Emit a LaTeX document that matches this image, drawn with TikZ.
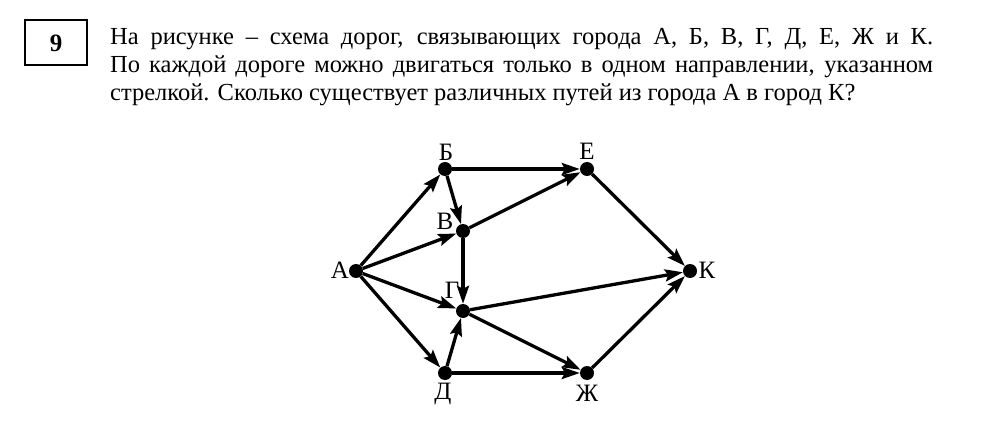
\documentclass[tikz,border=0pt]{standalone}
\usepackage{fontspec}
\setmainfont{Liberation Serif}
\usetikzlibrary{arrows.meta}
\begin{document}
\begin{tikzpicture}[x=1pt,y=-1pt,
  city/.style={circle,fill=black,inner sep=0pt,minimum size=14pt},
  lbl/.style={font=\fontsize{25}{28}\selectfont,inner sep=0pt},
  road/.style={line width=3.3pt,-{Stealth[length=18pt,width=12pt,inset=3pt]}},
  txt/.style={anchor=base west,inner sep=0pt,font=\fontsize{24.5}{28}\selectfont}]
\useasboundingbox (0,0) rectangle (1000,430);
% header
\node[draw,line width=2pt,minimum width=62pt,minimum height=45pt,inner sep=0pt,
      font=\fontsize{25}{28}\selectfont\bfseries] (num) at (56,43) {9};
\node[txt] (l1) at (110,45) {\makebox[823pt][s]{На рисунке – схема дорог, связывающих города А, Б, В, Г, Д, Е, Ж и К.}};
\node[txt] (l2) at (110,73) {\makebox[823pt][s]{По каждой дороге можно двигаться только в одном направлении, указанном}};
\node[txt] (l3) at (110,101) {стрелкой. Сколько существует различных путей из города А в город К?};
% cities
\node[city] (A) at (356,271) {};
\node[city] (B) at (445,169) {};
\node[city] (E) at (587,169) {};
\node[city] (V) at (463,231) {};
\node[city] (G) at (463,311) {};
\node[city] (D) at (445,373) {};
\node[city] (Zh) at (587,373) {};
\node[city] (K) at (690,271) {};
% labels
\node[lbl] (lA) at (340,270) {А};
\node[lbl] (lB) at (446,152) {Б};
\node[lbl] (lE) at (587,151) {Е};
\node[lbl] (lV) at (445,221) {В};
\node[lbl] (lG) at (452,290) {Г};
\node[lbl] (lD) at (443,394) {Д};
\node[lbl] (lZh) at (587,393) {Ж};
\node[lbl] (lK) at (707,270) {К};
% roads
\draw[road] (A) -- (B);
\draw[road] (A) -- (V);
\draw[road] (A) -- (G);
\draw[road] (A) -- (D);
\draw[road] (B) -- (V);
\draw[road] (B) -- (E);
\draw[road] (V) -- (E);
\draw[road] (V) -- (G);
\draw[road] (D) -- (G);
\draw[road] (D) -- (Zh);
\draw[road] (G) -- (Zh);
\draw[road] (G) -- (K);
\draw[road] (E) -- (K);
\draw[road] (Zh) -- (K);
\end{tikzpicture}
\end{document}
